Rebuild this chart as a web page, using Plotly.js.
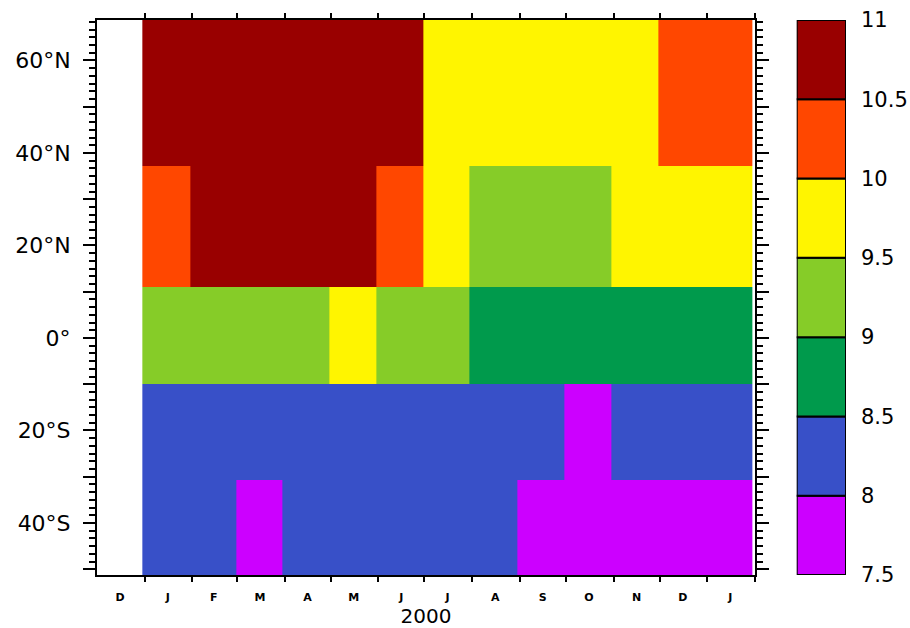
<!DOCTYPE html>
<html>
<head>
<meta charset="utf-8">
<script src="https://cdn.plot.ly/plotly-3.0.1.min.js"></script>
<style>html,body{margin:0;padding:0;background:#fff;}</style>
</head>
<body>
<div id="chart" style="width:910px;height:628px;"></div>
<script>
// ---- data ----
var months = ['2000-01-15','2000-02-15','2000-03-15','2000-04-15','2000-05-15','2000-06-15',
              '2000-07-15','2000-08-15','2000-09-15','2000-10-15','2000-11-15','2000-12-15','2001-01-15'];
var lats = [-41, -20.5, 0.5, 21.5, 53];
var row41S = [8.2, 8.1, 7.9, 8.1, 8.3, 8.2, 8.1, 8.05, 7.8, 7.7, 7.8, 7.9, 7.9];
var row20S = [8.3, 8.2, 8.3, 8.4, 8.2, 8.1, 8.3, 8.2, 8.1, 7.9, 8.2, 8.3, 8.2];
var rowEq  = [9.2, 9.3, 9.4, 9.1, 9.6, 9.3, 9.2, 8.8, 8.7, 8.6, 8.8, 8.9, 8.7];
var row21N = [10.3, 10.6, 10.8, 10.7, 10.55, 10.2, 9.7, 9.3, 9.2, 9.4, 9.6, 9.8, 9.7];
var row53N = [10.8, 10.7, 10.9, 10.6, 10.7, 10.55, 9.8, 9.9, 9.7, 9.6, 9.8, 10.3, 10.2];

var levels = [7.5, 8, 8.5, 9, 9.5, 10, 10.5, 11];
var binColors = ['#cc00ff', '#3850c8', '#009a4c', '#86cc28', '#fff500', '#ff4700', '#990000'];

var monthStarts = ['2000-01-01','2000-02-01','2000-03-01','2000-04-01','2000-05-01','2000-06-01',
                   '2000-07-01','2000-08-01','2000-09-01','2000-10-01','2000-11-01','2000-12-01',
                   '2001-01-01','2001-02-01'];
var monthMids = ['1999-12-16','2000-01-16','2000-02-15','2000-03-16','2000-04-16','2000-05-16','2000-06-16',
                 '2000-07-16','2000-08-16','2000-09-16','2000-10-16','2000-11-16','2000-12-16','2001-01-16'];
var monthLetters = ['D','J','F','M','A','M','J','J','A','S','O','N','D','J'];
var yearStarts = ['2000-01-01','2001-01-01'];
var latTicks = [-50, -40, -30, -20, -10, 0, 10, 20, 30, 40, 50, 60];
var latLabels = ['', '40°S', '', '20°S', '', '0°', '', '20°N', '', '40°N', '', '60°N'];

// ---- build ----
var zmin = levels[0], zmax = levels[levels.length - 1];
var nb = binColors.length;
var cscale = [];
for (var i = 0; i < nb; i++) {
  cscale.push([i / nb, binColors[i]]);
  cscale.push([(i + 1) / nb, binColors[i]]);
}
var baseArr = levels.slice(0, nb);
var hArr = [];
for (var j = 0; j < nb; j++) hArr.push(levels[j + 1] - levels[j]);
var cbX = [];
for (var k = 0; k < nb; k++) cbX.push(0);

var FONT = 'DejaVu Sans';

var traces = [
  {
    type: 'heatmap',
    x: months, y: lats,
    z: [row41S, row20S, rowEq, row21N, row53N],
    zmin: zmin, zmax: zmax,
    colorscale: cscale,
    showscale: false,
    zsmooth: false,
    xaxis: 'x', yaxis: 'y',
    hoverinfo: 'x+y+z'
  },
  {
    type: 'bar',
    x: cbX, y: hArr, base: baseArr,
    width: 1,
    marker: {color: binColors, line: {color: '#000', width: 2}},
    xaxis: 'x2', yaxis: 'y2',
    cliponaxis: false,
    showlegend: false,
    hoverinfo: 'skip'
  }
];

var layout = {
  width: 910, height: 628,
  margin: {l: 97, r: 64, t: 20, b: 53},
  paper_bgcolor: '#fff', plot_bgcolor: '#fff',
  showlegend: false,
  barmode: 'overlay',
  bargap: 0,
  font: {family: FONT, color: '#000'},
  xaxis: {
    type: 'date',
    domain: [0, 0.8785],
    range: ['1999-12-01', '2001-02-01'],
    tickmode: 'array', tickvals: monthMids, ticktext: monthLetters,
    ticks: '', ticklabelstandoff: 11,
    tickfont: {family: FONT, size: 11, color: '#000', weight: 'bold'},
    showline: true, linewidth: 2, linecolor: '#000', mirror: 'ticks',
    showgrid: false, zeroline: false,
    minor: {tickmode: 'array', tickvals: monthStarts, ticks: 'outside', ticklen: 5, tickwidth: 2, tickcolor: '#000', showgrid: false},
    title: {text: '2000', font: {family: FONT, size: 20, color: '#000'}, standoff: 9},
    automargin: false
  },
  xaxis3: {
    type: 'date',
    overlaying: 'x', anchor: 'y', side: 'bottom',
    range: ['1999-12-01', '2001-02-01'],
    tickmode: 'array', tickvals: yearStarts,
    ticks: 'outside', ticklen: 12, tickwidth: 2, tickcolor: '#000',
    showticklabels: false, showline: false, mirror: 'ticks',
    showgrid: false, zeroline: false, automargin: false
  },
  yaxis: {
    range: [-51.25, 68.75],
    tickmode: 'array', tickvals: latTicks, ticktext: latLabels,
    ticks: 'outside', ticklen: 12, tickwidth: 2, tickcolor: '#000',
    ticklabelstandoff: 8,
    tickfont: {family: FONT, size: 22, color: '#000'},
    showline: true, linewidth: 2, linecolor: '#000', mirror: 'ticks',
    showgrid: false, zeroline: false,
    minor: {tickmode: 'linear', tick0: 0, dtick: 10 / 6, ticks: 'outside', ticklen: 6, tickwidth: 2, tickcolor: '#000', showgrid: false},
    automargin: false
  },
  xaxis2: {
    domain: [0.9342, 1], anchor: 'y2',
    range: [-0.5, 0.5], visible: false, fixedrange: true
  },
  yaxis2: {
    domain: [0, 1], anchor: 'x2', side: 'right',
    range: [7.5, 11],
    tickmode: 'array', tickvals: levels,
    ticks: '', ticklabelstandoff: 14,
    tickfont: {family: FONT, size: 21, color: '#000'},
    showline: false, showgrid: false, zeroline: false,
    automargin: false
  }
};

Plotly.newPlot('chart', traces, layout, {displayModeBar: false, staticPlot: true});
</script>
</body>
</html>
